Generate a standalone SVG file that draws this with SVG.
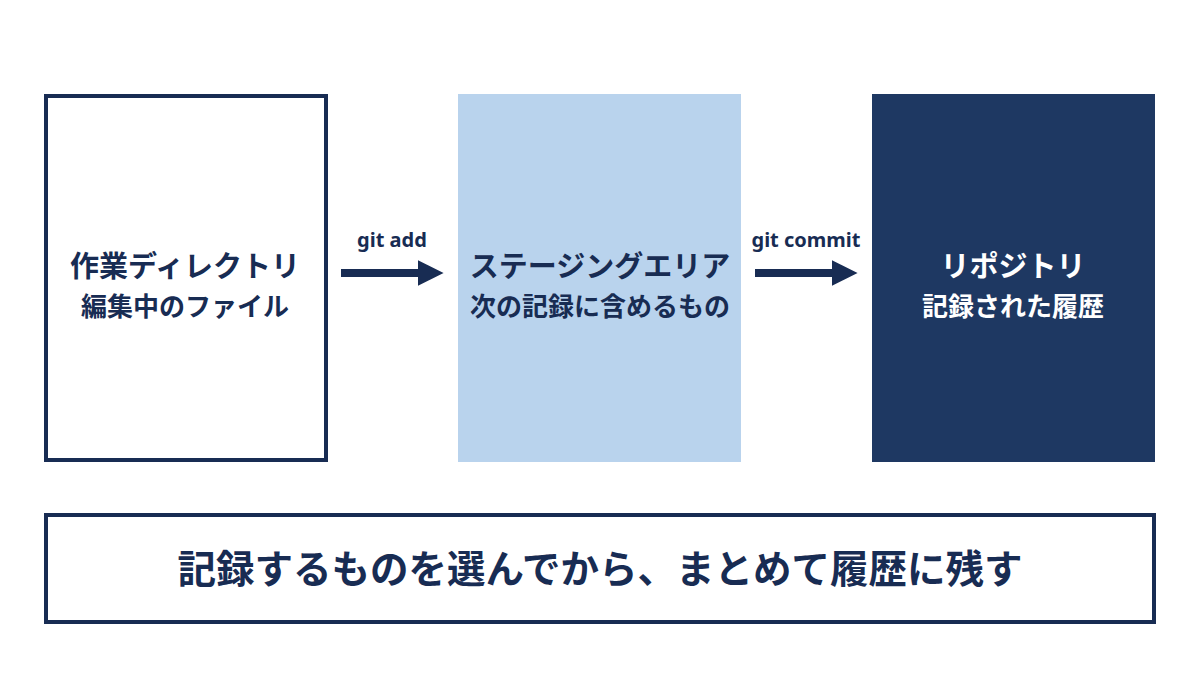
<svg xmlns="http://www.w3.org/2000/svg" width="1200" height="675" viewBox="0 0 1200 675">
<defs>
<style>
.t{font-family:"Noto Sans CJK JP","Noto Sans",sans-serif;font-weight:700;text-anchor:middle}
.dark{fill:#182c53}
.lbl{font-family:"Noto Sans","Noto Sans CJK JP",sans-serif;font-weight:700;font-size:20px;text-anchor:middle;fill:#182c53}
</style>
<marker id="ah" viewBox="0 0 10 10" refX="0" refY="5" markerWidth="3.2" markerHeight="3.6" markerUnits="strokeWidth" orient="auto">
<path d="M0,0 L10,5 L0,10 Z" fill="#182c53"/>
</marker>
</defs>
<rect width="1200" height="675" fill="#ffffff"/>
<g id="working">
<rect x="46" y="96" width="280" height="364" fill="#ffffff" stroke="#182c53" stroke-width="4"/>
<text class="t dark" x="185" y="277" font-size="29">作業ディレクトリ</text>
<text class="t dark" x="185" y="316" font-size="26">編集中のファイル</text>
</g>
<g id="staging">
<rect x="458" y="94" width="283" height="368" fill="#b9d3ed"/>
<text class="t dark" x="600" y="277" font-size="29">ステージングエリア</text>
<text class="t dark" x="600" y="316" font-size="26">次の記録に含めるもの</text>
</g>
<g id="repository">
<rect x="872" y="94" width="283" height="368" fill="#1e3862"/>
<text class="t" fill="#ffffff" x="1013" y="277" font-size="29">リポジトリ</text>
<text class="t" fill="#ffffff" x="1013" y="316" font-size="26">記録された履歴</text>
</g>
<g id="connectors">
<line x1="341" y1="273" x2="418" y2="273" stroke="#182c53" stroke-width="8" marker-end="url(#ah)"/>
<text class="lbl" x="392" y="247">git add</text>
<line x1="755" y1="273" x2="832" y2="273" stroke="#182c53" stroke-width="8" marker-end="url(#ah)"/>
<text class="lbl" x="806" y="247">git commit</text>
</g>
<g id="summary">
<rect x="46" y="515" width="1108" height="107" fill="#ffffff" stroke="#182c53" stroke-width="4"/>
<text class="t dark" x="600" y="583" font-size="38.5">記録するものを選んでから、まとめて履歴に残す</text>
</g>
</svg>
